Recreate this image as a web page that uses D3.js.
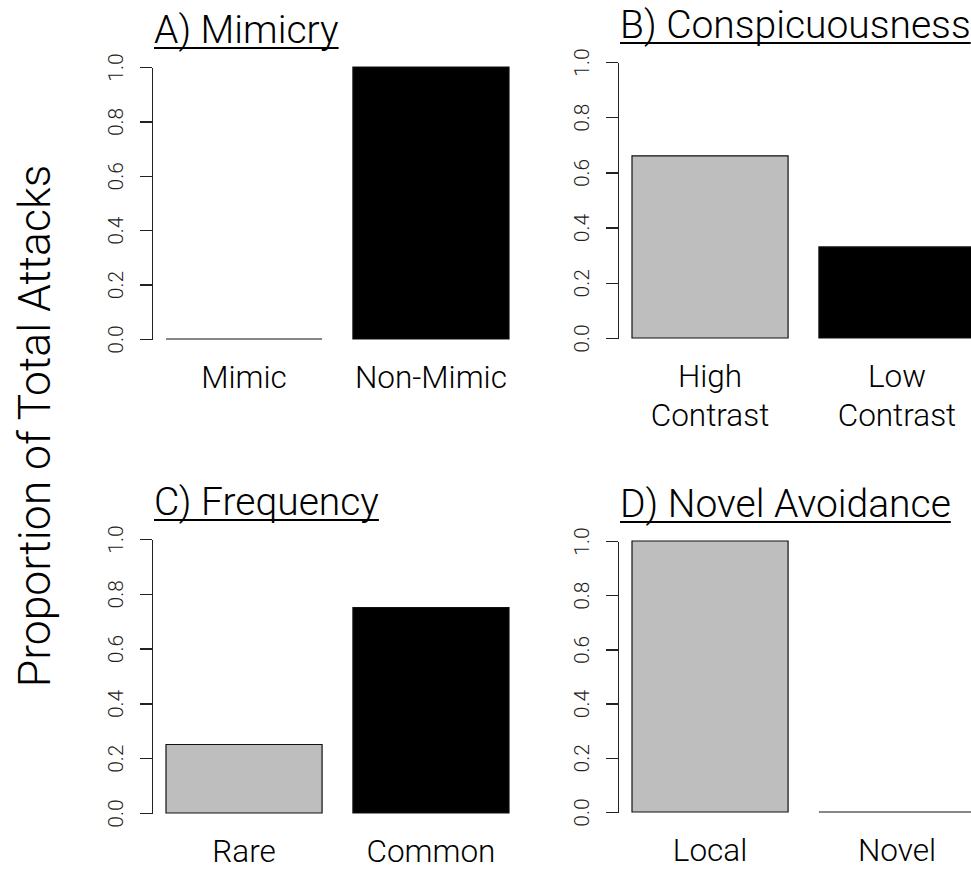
<!DOCTYPE html>
<meta charset="utf-8">
<head>
	<title>Proportion of Total Attacks</title>
	<style>
	body { margin: 0; background: #fff; }
	text { font-family: Roboto, "Liberation Sans", sans-serif; font-weight: 300; fill: #000; }
	.axis path, .axis line { fill: none; stroke: #222; stroke-width: 1.5; shape-rendering: crispEdges; }
	.axis text { font-size: 21px; fill: #222; }
	</style>
</head>
<body>
	<script src="https://cdn.jsdelivr.net/npm/d3@7"></script>
	<script>

		// data
		var titles = ["A) Mimicry", "B) Conspicuousness", "C) Frequency", "D) Novel Avoidance"];
		var categories = [
			["Mimic", "Non-Mimic"],
			["High\nContrast", "Low\nContrast"],
			["Rare", "Common"],
			["Local", "Novel"]
		];
		var values = [
			[0, 1.0],
			[0.66, 0.33],
			[0.25, 0.75],
			[1.0, 0]
		];
		var barColors = ["#bebebe", "#000000"];
		var yTicks = [0, 0.2, 0.4, 0.6, 0.8, 1.0];

		// panel positions (axis x, y of 0 and 1)
		var panels = [
			{ax: 152, y0: 339, y1: 67},
			{ax: 618, y0: 338, y1: 62},
			{ax: 152, y0: 813, y1: 539},
			{ax: 618, y0: 812, y1: 541}
		];

		var svg = d3.select("body").append("svg")
			.attr("width", 971)
			.attr("height", 869);

		svg.append("text")
			.attr("transform", "translate(50,426) rotate(-90)")
			.attr("text-anchor", "middle")
			.style("font-size", "44.5px")
			.text("Proportion of Total Attacks");

		panels.forEach(function(p, i) {
			var g = svg.append("g");

			var x = d3.scaleBand()
				.domain(categories[i])
				.range([p.ax + 14, p.ax + 357])
				.paddingInner(0.165)
				.paddingOuter(0);

			var y = d3.scaleLinear()
				.domain([0, 1])
				.range([p.y0, p.y1]);

			var data = categories[i].map(function(c, j) { return {cat: c, val: values[i][j], col: barColors[j]}; });

			g.selectAll("path.bar")
				.data(data)
				.enter().append("path")
					.attr("class", "bar")
					.attr("d", function(d) {
						var x0 = x(d.cat), x1 = x(d.cat) + x.bandwidth();
						return "M" + x0 + "," + y(0) + "H" + x1 + "V" + y(d.val) + "H" + x0 + "Z";
					})
					.style("fill", function(d) { return d.col; })
					.style("stroke", "#111")
					.style("stroke-width", 1.2);

			var yAxis = d3.axisLeft(y)
				.tickValues(yTicks)
				.tickSize(12)
				.tickSizeOuter(0)
				.tickFormat(d3.format(".1f"));

			var ax = g.append("g")
				.attr("class", "axis")
				.attr("transform", "translate(" + p.ax + ",0)")
				.call(yAxis);

			ax.selectAll(".tick text")
				.attr("x", null).attr("dy", null)
				.attr("transform", "translate(-36,0) rotate(-90)")
				.attr("text-anchor", "middle")
				.attr("dy", "0.35em");

			// category labels
			data.forEach(function(d) {
				var lines = d.cat.split("\n");
				var t = g.append("text")
					.attr("x", x(d.cat) + x.bandwidth() / 2)
					.attr("y", p.y0 + 49)
					.attr("text-anchor", "middle")
					.style("font-size", "31.5px");
				lines.forEach(function(l, k) {
					t.append("tspan")
						.attr("x", x(d.cat) + x.bandwidth() / 2)
						.attr("dy", k == 0 ? 0 : 39)
						.text(l);
				});
			});

			// underlined title
			var tt = g.append("text")
				.attr("x", p.ax + 2)
				.attr("y", p.y1 - 24)
				.style("font-size", "39px")
				.text(titles[i]);
			var w = tt.node().getComputedTextLength();
			g.append("line")
				.attr("x1", p.ax + 2).attr("x2", p.ax + 2 + w)
				.attr("y1", p.y1 - 19).attr("y2", p.y1 - 19)
				.style("stroke", "#000").style("stroke-width", 2);
		});

	</script>
</body>
